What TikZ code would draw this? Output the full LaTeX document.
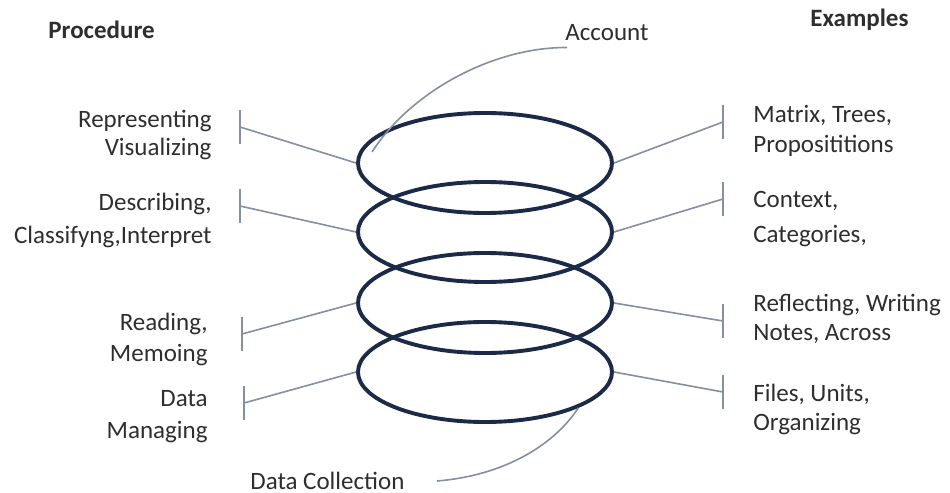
\documentclass[tikz,border=0pt]{standalone}
\usepackage{fontspec}
\setmainfont{Carlito}
\usetikzlibrary{shapes.geometric}
\definecolor{ringc}{HTML}{1B2A47}
\definecolor{connc}{HTML}{8290A0}
\definecolor{txtc}{HTML}{2E2E2E}
\begin{document}
\begin{tikzpicture}[x=0.5pt,y=-0.5pt,
  ringbox/.style={draw=ringc, line width=1.95pt, ellipse, minimum width=127pt, minimum height=50pt, inner sep=0pt},
  connline/.style={draw=connc, line width=0.8pt},
  lbl/.style={text=txtc, font=\fontsize{12.5}{15}\selectfont, inner sep=0pt},
  lleft/.style={lbl, anchor=east, align=right},
  lright/.style={lbl, anchor=west, align=left},
  headlbl/.style={lbl, anchor=west, font=\fontsize{12.5}{15}\selectfont\bfseries}]
\useasboundingbox (0,0) rectangle (950,493);

% rings
\node[ringbox] (e1) at (485,163) {};
\node[ringbox] (e2) at (485,232) {};
\node[ringbox] (e3) at (485,303) {};
\node[ringbox] (e4) at (485,372) {};

% headings
\node[headlbl] (proc) at (48,30) {Procedure};
\node[headlbl] (exam) at (810,20) {Examples};

% left labels
\node[lleft] (l1) at (212,135) {Representing\\[-1pt]Visualizing};
\node[lleft] (l2) at (212,220) {Describing,\\[1.5pt]Classifyng,Interpret};
\node[lleft] (l3) at (208,339) {Reading,\\[0.5pt]Memoing};
\node[lleft] (l4) at (208,417) {Data\\[1pt]Managing};

% right labels
\node[lright] (r1) at (753,131) {Matrix, Trees,\\Proposititions};
\node[lright] (r2) at (753,219) {Context,\\[2.5pt]Categories,};
\node[lright] (r3) at (753,319) {Reflecting, Writing\\[-0.5pt]Notes, Across};
\node[lright] (r4) at (753,409) {Files, Units,\\[-0.5pt]Organizing};

% account / data collection
\node[lbl, anchor=west, inner sep=3pt] (acc) at (559,33) {Account};
\node[lbl, anchor=west] (dc) at (250,481) {Data Collection};

% bar coordinates
\coordinate (bl1) at (240,127);
\coordinate (bl2) at (240,206);
\coordinate (bl3) at (242,334);
\coordinate (bl4) at (244,403);
\coordinate (br1) at (723,122);
\coordinate (br2) at (723,199);
\coordinate (br3) at (723,321);
\coordinate (br4) at (723,392);

% connectors
\draw[connline] (e1.west) -- (bl1);
\draw[connline] (e2.west) -- (bl2);
\draw[connline] (e3.west) -- (bl3);
\draw[connline] (e4.west) -- (bl4);
\draw[connline] (e1.east) -- (br1);
\draw[connline] (e2.east) -- (br2);
\draw[connline] (e3.east) -- (br3);
\draw[connline] (e4.east) -- (br4);

% bars
\foreach \b in {bl1,bl2,bl3,bl4,br1,br2,br3,br4}
  \draw[connline] (\b) ++(0,-17) -- ++(0,34);

% curves
\coordinate (accstart) at (372,152);
\draw[connline] (accstart) .. controls (412,90) and (495,47) .. ([xshift=4pt]acc.south west);
\draw[connline] (e4.-21) .. controls (552,448) and (500,476) .. ([xshift=16pt]dc.east);
\end{tikzpicture}
\end{document}
